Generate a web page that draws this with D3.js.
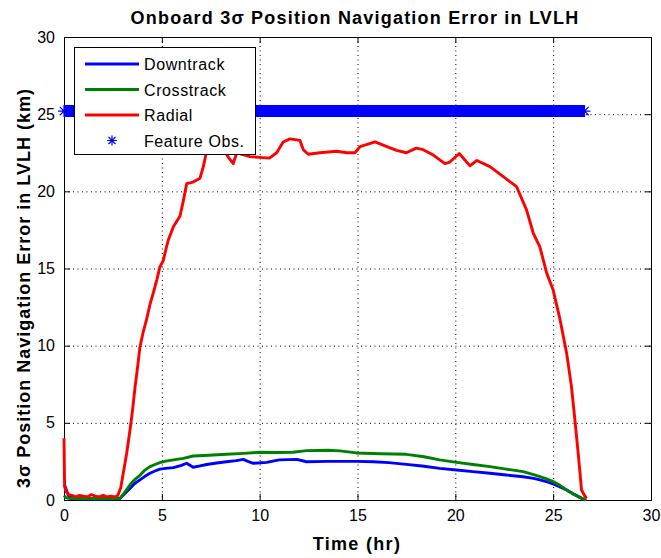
<!DOCTYPE html>
<html>
<head>
<meta charset="utf-8">
<script src="https://cdn.jsdelivr.net/npm/d3@7"></script>
<style>
  body { margin: 0; background: #fff; }
  svg text { font-family: "Liberation Sans", Arial, sans-serif; }
</style>
</head>
<body>
<svg id="chart" width="661" height="558"></svg>
<script>
// values (time in hr, error in km)
var downT = [0, 0.05, 0.22, 0.4, 0.65, 1.0, 1.5, 2.0, 2.5, 2.86, 3.1, 3.37, 3.6, 3.88, 4.1, 4.39, 4.65, 4.9, 5.2, 5.59, 6.0, 6.27, 6.6, 6.9, 7.29, 7.8, 8.3, 8.8, 9.16, 9.4, 9.67, 10.36, 11.0, 11.9, 12.4, 13.5, 14.95, 15.8, 16.6, 17.5, 18.3, 19.2, 20.07, 20.9, 21.77, 22.6, 23.47, 24.0, 24.32, 24.7, 25.0, 25.35, 25.69, 26.0, 26.37, 26.6];
var downV = [1.0, 0.9, 0.3, 0.15, 0.08, 0.05, 0.05, 0.05, 0.05, 0.1, 0.4, 0.75, 1.05, 1.3, 1.5, 1.73, 1.88, 2.0, 2.05, 2.1, 2.25, 2.38, 2.12, 2.2, 2.3, 2.4, 2.48, 2.55, 2.63, 2.5, 2.38, 2.44, 2.6, 2.63, 2.48, 2.5, 2.5, 2.48, 2.42, 2.31, 2.2, 2.05, 1.94, 1.84, 1.73, 1.62, 1.51, 1.4, 1.3, 1.17, 1.04, 0.85, 0.65, 0.42, 0.17, 0.0];

var crossT = [0, 0.1, 0.3, 0.6, 1.0, 1.5, 2.0, 2.5, 2.86, 3.1, 3.37, 3.6, 3.88, 4.1, 4.39, 4.65, 4.9, 5.2, 5.59, 6.1, 6.6, 7.4, 8.3, 9.2, 10.0, 10.8, 11.7, 12.4, 13.5, 14.1, 14.95, 16.2, 17.5, 18.4, 19.2, 20.07, 20.9, 21.77, 22.6, 23.47, 24.0, 24.32, 24.7, 25.0, 25.35, 25.69, 26.0, 26.37, 26.7];
var crossV = [0.3, 0.15, 0.1, 0.1, 0.1, 0.1, 0.1, 0.1, 0.1, 0.5, 0.97, 1.3, 1.6, 1.9, 2.16, 2.3, 2.42, 2.52, 2.6, 2.7, 2.85, 2.9, 2.96, 3.02, 3.09, 3.08, 3.09, 3.2, 3.22, 3.18, 3.05, 3.0, 2.96, 2.8, 2.6, 2.44, 2.3, 2.16, 2.0, 1.84, 1.65, 1.51, 1.35, 1.19, 0.95, 0.65, 0.4, 0.17, 0.0];

var radT = [0, 0.03, 0.1, 0.25, 0.4, 0.6, 0.8, 1.0, 1.2, 1.4, 1.6, 1.8, 2.0, 2.2, 2.4, 2.6, 2.75, 2.9, 3.05, 3.2, 3.37, 3.5, 3.63, 3.75, 3.88, 4.05, 4.22, 4.4, 4.56, 4.75, 4.9, 5.07, 5.2, 5.33, 5.59, 5.93, 6.1, 6.27, 6.6, 6.95, 7.12, 7.29, 7.5, 7.8, 8.1, 8.4, 8.65, 8.83, 9.1, 9.5, 10.0, 10.5, 10.87, 11.2, 11.55, 12.06, 12.23, 12.48, 13.08, 13.93, 14.45, 14.87, 15.13, 15.9, 16.5, 17.0, 17.5, 18.0, 18.36, 18.87, 19.47, 19.72, 20.2, 20.75, 21.1, 21.77, 22.45, 23.13, 23.64, 23.98, 24.32, 24.67, 25.0, 25.35, 25.69, 25.94, 26.11, 26.28, 26.45, 26.6, 26.7];
var radV = [4.0, 0.9, 0.55, 0.35, 0.3, 0.2, 0.3, 0.25, 0.2, 0.35, 0.25, 0.2, 0.3, 0.2, 0.25, 0.2, 0.3, 0.8, 1.9, 3.0, 4.5, 5.8, 7.3, 8.5, 9.9, 10.9, 11.7, 12.7, 13.4, 14.3, 15.1, 15.5, 16.2, 16.85, 17.7, 18.4, 19.4, 20.5, 20.6, 20.85, 21.6, 22.6, 23.1, 23.3, 22.9, 22.2, 21.8, 22.5, 22.4, 22.25, 22.2, 22.15, 22.5, 23.2, 23.4, 23.3, 22.7, 22.4, 22.5, 22.6, 22.5, 22.5, 22.9, 23.2, 22.9, 22.65, 22.5, 22.8, 22.7, 22.35, 21.8, 21.9, 22.45, 21.65, 22.0, 21.6, 20.95, 20.3, 18.8, 17.3, 16.4, 14.7, 13.6, 11.7, 9.5, 7.3, 5.2, 3.0, 0.65, 0.3, 0.1];

// feature observations: a dense run of markers from first to last obs
var obsT = [0, 26.6];
var obsV = [25.2, 25.2];

var xTicks = [0, 5, 10, 15, 20, 25, 30];
var yTicks = [0, 5, 10, 15, 20, 25, 30];
var seriesNames = ["Downtrack", "Crosstrack", "Radial", "Feature Obs."];
var seriesColors = ["#0000ff", "#008000", "#ff0000", "#0000ff"];

var padL = 64, padR = 651, padT = 37, padB = 500;
var svg = d3.select("#chart");

var x = d3.scaleLinear().domain([0, 30]).range([padL, padR]);
var y = d3.scaleLinear().domain([0, 30]).range([padB, padT]);

// grid
var grid = svg.append("g").attr("class", "grid");
grid.selectAll(".gx").data(xTicks.slice(1, -1)).enter().append("line")
  .attr("x1", function(d){ return x(d) + 0.5; }).attr("x2", function(d){ return x(d) + 0.5; })
  .attr("y1", padT).attr("y2", padB)
  .attr("stroke", "#000").attr("stroke-width", 1).attr("stroke-dasharray", "1,3.5");
grid.selectAll(".gy").data(yTicks.slice(1, -1)).enter().append("line")
  .attr("y1", function(d){ return y(d) + 0.5; }).attr("y2", function(d){ return y(d) + 0.5; })
  .attr("x1", padL).attr("x2", padR)
  .attr("stroke", "#000").attr("stroke-width", 1).attr("stroke-dasharray", "1,3.5");

// axes, ticks pointing inward like matlab
var axB = svg.append("g").attr("transform", "translate(0," + padB + ")")
  .call(d3.axisBottom(x).tickValues(xTicks).tickSize(-6).tickPadding(10).tickFormat(d3.format("d")));
var axT = svg.append("g").attr("transform", "translate(0," + padT + ")")
  .call(d3.axisTop(x).tickValues(xTicks).tickSize(-6).tickFormat(""));
var axL = svg.append("g").attr("transform", "translate(" + padL + ",0)")
  .call(d3.axisLeft(y).tickValues(yTicks).tickSize(-6).tickPadding(9).tickFormat(d3.format("d")));
var axR = svg.append("g").attr("transform", "translate(" + padR + ",0)")
  .call(d3.axisRight(y).tickValues(yTicks).tickSize(-6).tickFormat(""));
[axB, axT, axL, axR].forEach(function(a){
  a.selectAll("path").attr("stroke", "#000");
  a.selectAll("line").attr("stroke", "#000");
  a.selectAll("text").attr("fill", "#000").style("font-size", "16px")
    .style("font-family", "'Liberation Sans', Arial, sans-serif");
});

// series
function zip(ts, vs){ return ts.map(function(t, i){ return [t, vs[i]]; }); }
var line = d3.line().x(function(d){ return x(d[0]); }).y(function(d){ return y(d[1]); });
var plot = svg.append("g");
[zip(downT, downV), zip(crossT, crossV), zip(radT, radV)].forEach(function(s, i){
  plot.append("path").datum(s).attr("d", line)
    .attr("fill", "none").attr("stroke", seriesColors[i])
    .attr("stroke-width", 2.9).attr("stroke-linejoin", "round");
});

function star(g, cx, cy, r){
  var a = r * 0.7;
  g.append("path")
    .attr("d", "M" + (cx - r) + "," + cy + "H" + (cx + r) + "M" + cx + "," + (cy - r) + "V" + (cy + r) +
      "M" + (cx - a) + "," + (cy - a) + "L" + (cx + a) + "," + (cy + a) +
      "M" + (cx - a) + "," + (cy + a) + "L" + (cx + a) + "," + (cy - a))
    .attr("stroke", seriesColors[3]).attr("stroke-width", 1.2).attr("fill", "none");
}
var obs = zip(obsT, obsV);
plot.append("path").datum(obs).attr("d", line)
  .attr("stroke", seriesColors[3]).attr("stroke-width", 12).attr("fill", "none");
obs.forEach(function(d){ star(plot, x(d[0]), y(d[1]), 6); });

// legend
var lg = svg.append("g");
lg.append("rect").attr("x", 74.5).attr("y", 47.5).attr("width", 181).attr("height", 107)
  .attr("fill", "#fff").attr("stroke", "#000").attr("stroke-width", 1);
seriesNames.forEach(function(n, i){
  var ly = 64 + i * 25.5;
  if (i < 3) {
    lg.append("line").attr("x1", 85).attr("x2", 139).attr("y1", ly).attr("y2", ly)
      .attr("stroke", seriesColors[i]).attr("stroke-width", 2.9);
  } else {
    star(lg, 112, ly, 5);
  }
  lg.append("text").attr("x", 144).attr("y", ly + 6).text(n)
    .style("font-size", "16px").style("letter-spacing", "0.6px").attr("fill", "#000");
});

// titles
svg.append("text").attr("x", 355).attr("y", 24).attr("text-anchor", "middle")
  .style("font-size", "18px").style("font-weight", "bold").style("letter-spacing", "1.2px")
  .text("Onboard 3\u03c3 Position Navigation Error in LVLH");
svg.append("text").attr("x", 357).attr("y", 550).attr("text-anchor", "middle")
  .style("font-size", "18px").style("font-weight", "bold").style("letter-spacing", "1.3px")
  .text("Time (hr)");
svg.append("text").attr("transform", "translate(30,288) rotate(-90)").attr("text-anchor", "middle")
  .style("font-size", "18px").style("font-weight", "bold").style("letter-spacing", "1px")
  .text("3\u03c3 Position Navigation Error in LVLH (km)");
</script>
</body>
</html>
